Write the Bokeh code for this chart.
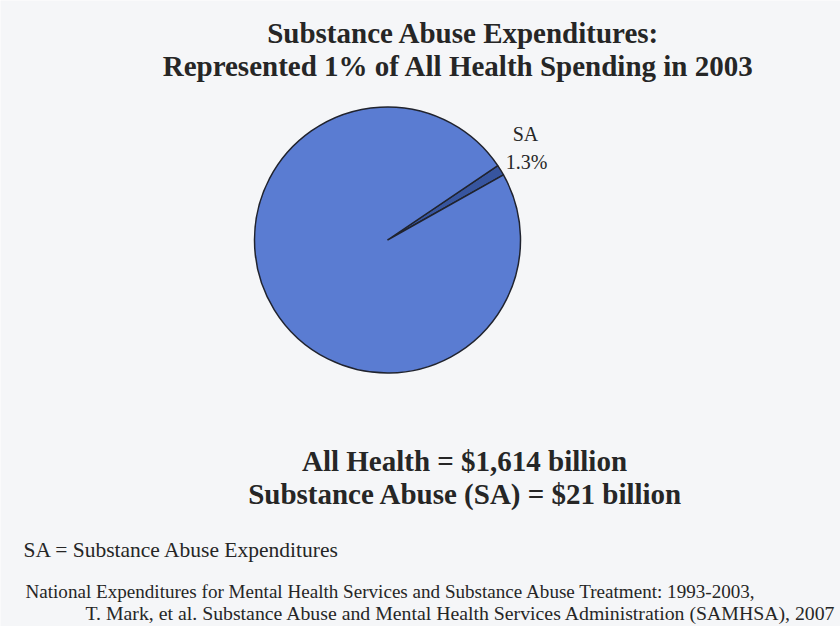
import math
import numpy as np
from bokeh.plotting import figure
from bokeh.models import Range1d, ColumnDataSource
from bokeh.core.properties import value
from bokeh.embed import file_html
from bokeh.resources import INLINE

# ---- data ----
categories = ["Substance Abuse", "All Other Health"]
values_billion = [21, 1593]
slice_colors = ["#37559f", "#5a7cd2"]
title_lines = ["Substance Abuse Expenditures:",
               "Represented 1% of All Health Spending in 2003"]
slice_label = ["SA", "1.3%"]
totals_lines = ["All Health = $1,614 billion",
                "Substance Abuse (SA) = $21 billion"]
note_line = "SA = Substance Abuse Expenditures"
source_lines = ["National Expenditures for Mental Health Services and Substance Abuse Treatment: 1993-2003,",
                "T. Mark, et al. Substance Abuse and Mental Health Services Administration (SAMHSA), 2007"]

W, H = 840, 626
SERIF = value("'Liberation Serif', 'Times New Roman', Times, serif")

p = figure(width=W, height=H, output_backend="svg", toolbar_location=None,
           x_range=Range1d(0, W), y_range=Range1d(0, H), min_border=0)
p.axis.visible = False
p.grid.visible = False
p.outline_line_color = None
p.background_fill_color = "#f5f6f8"
p.border_fill_color = "#f5f6f8"

def Y(py):
    return H - py

# pie
vals = np.array(values_billion, dtype=float)
frac = vals / vals.sum()
start_offset = math.radians(29.3)
ends = start_offset + np.cumsum(frac) * 2 * math.pi
starts = np.concatenate([[start_offset], ends[:-1]])
src = ColumnDataSource(dict(cat=categories, start=starts, end=ends, color=slice_colors))
cx, cy, r = 387, Y(239.5), 133
p.wedge(x=cx, y=cy, radius=r, start_angle="start", end_angle="end",
        fill_color="color", line_color="#20232e", line_width=1.5, source=src)

def txt(x, y, s, size, bold=False, align="center"):
    p.text(x=[x], y=[Y(y)], text=[s], text_font=SERIF, text_font_size=f"{size}px",
           text_font_style="bold" if bold else "normal", text_align=align,
           text_baseline="middle", text_color="#262626")

txt(463, 32, title_lines[0], 29, bold=True)
txt(458, 65, title_lines[1], 29, bold=True)
txt(525, 133, slice_label[0], 20)
txt(526, 161, slice_label[1], 20)
txt(464, 460, totals_lines[0], 29, bold=True)
txt(465, 493, totals_lines[1], 29, bold=True)
txt(23, 549, note_line, 21.5, align="left")
txt(25, 591, source_lines[0], 19.1, align="left")
txt(85, 612, source_lines[1], 19.8, align="left")

open("out.html", "w").write(file_html(p, INLINE))
